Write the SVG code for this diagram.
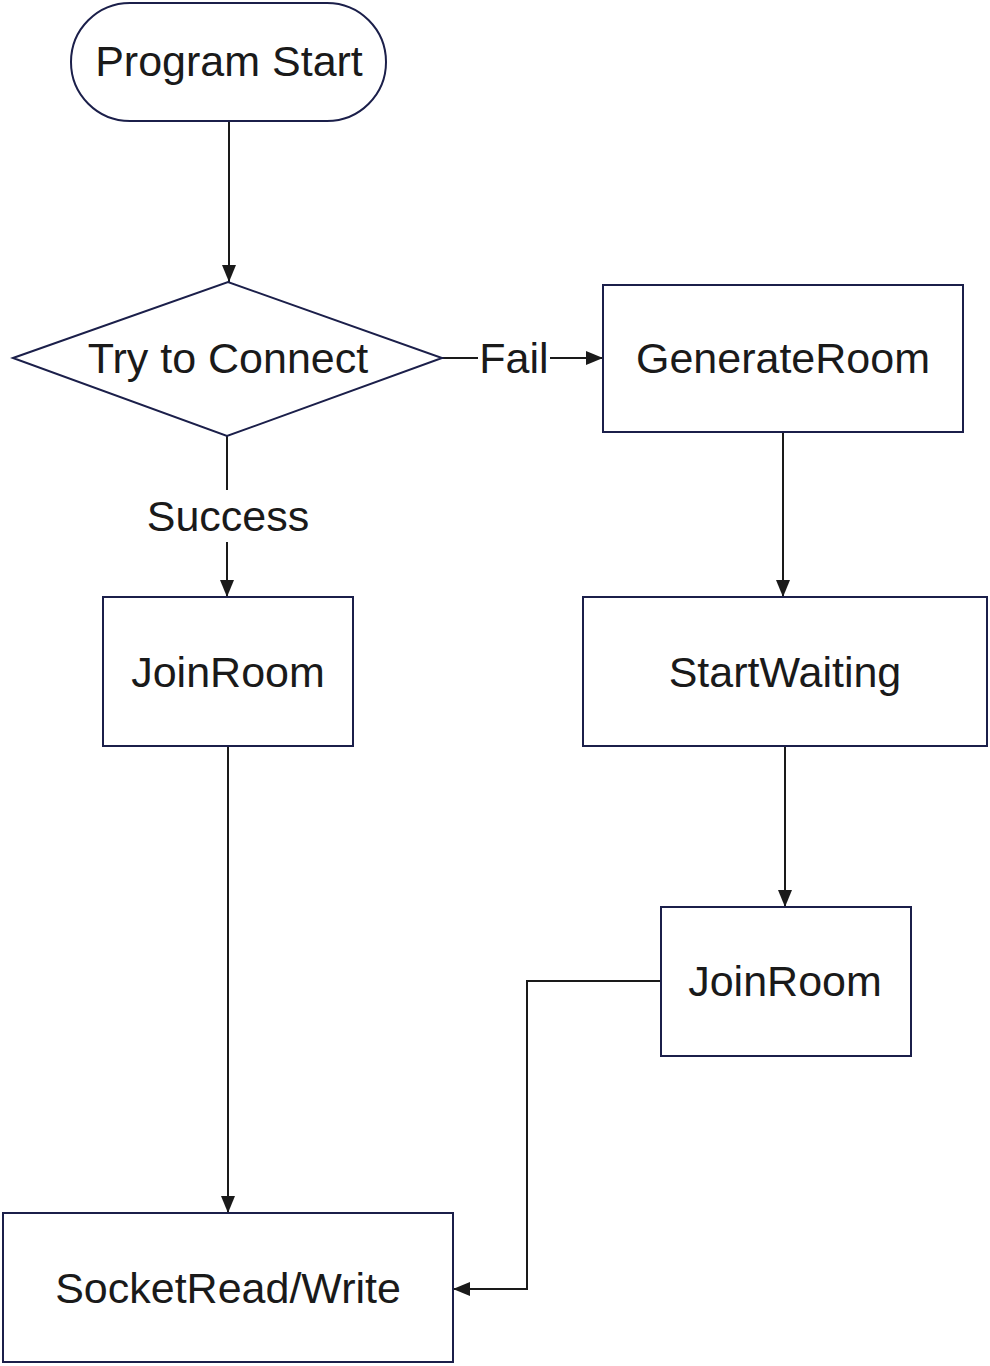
<svg xmlns="http://www.w3.org/2000/svg" width="990" height="1366" viewBox="0 0 990 1366">
<style>
.n{fill:#fff;stroke:#1b1f4a;stroke-width:2}
.t{font-family:"Liberation Sans",Arial,sans-serif;font-size:43px;fill:#1a1a1a;text-anchor:middle}
.c{fill:none;stroke:#1a1a1a;stroke-width:2}
</style>
<defs>
<marker id="a" markerWidth="17" markerHeight="14" refX="17" refY="7" orient="auto" markerUnits="userSpaceOnUse">
<path d="M0,0 L17,7 L0,14 Z" fill="#1a1a1a"/>
</marker>
</defs>
<rect width="990" height="1366" fill="#fff"/>
<g id="connectors">
<path class="c" d="M229,121 V282" marker-end="url(#a)"/>
<path class="c" d="M442,358 H478 M550,358 H603" marker-end="url(#a)"/>
<path class="c" d="M227,436 V490 M227,542 V597" marker-end="url(#a)"/>
<path class="c" d="M783,432 V597" marker-end="url(#a)"/>
<path class="c" d="M785,746 V907" marker-end="url(#a)"/>
<path class="c" d="M228,746 V1213" marker-end="url(#a)"/>
<path class="c" d="M661,981 H527 V1289 H453" marker-end="url(#a)"/>
<text class="t" x="514" y="373">Fail</text>
<text class="t" x="228" y="531">Success</text>
</g>
<g id="start"><rect class="n" x="71" y="3" width="315" height="118" rx="59"/><text class="t" x="229" y="76">Program Start</text></g>
<g id="connect"><polygon class="n" points="13,358 228,282 442,358 227,436"/><text class="t" x="228" y="373">Try to Connect</text></g>
<g id="generate"><rect class="n" x="603" y="285" width="360" height="147"/><text class="t" x="783" y="373">GenerateRoom</text></g>
<g id="waiting"><rect class="n" x="583" y="597" width="404" height="149"/><text class="t" x="785" y="687">StartWaiting</text></g>
<g id="join2"><rect class="n" x="661" y="907" width="250" height="149"/><text class="t" x="785" y="996">JoinRoom</text></g>
<g id="join1"><rect class="n" x="103" y="597" width="250" height="149"/><text class="t" x="228" y="687">JoinRoom</text></g>
<g id="socket"><rect class="n" x="3" y="1213" width="450" height="149"/><text class="t" x="228" y="1303">SocketRead/Write</text></g>
</svg>
